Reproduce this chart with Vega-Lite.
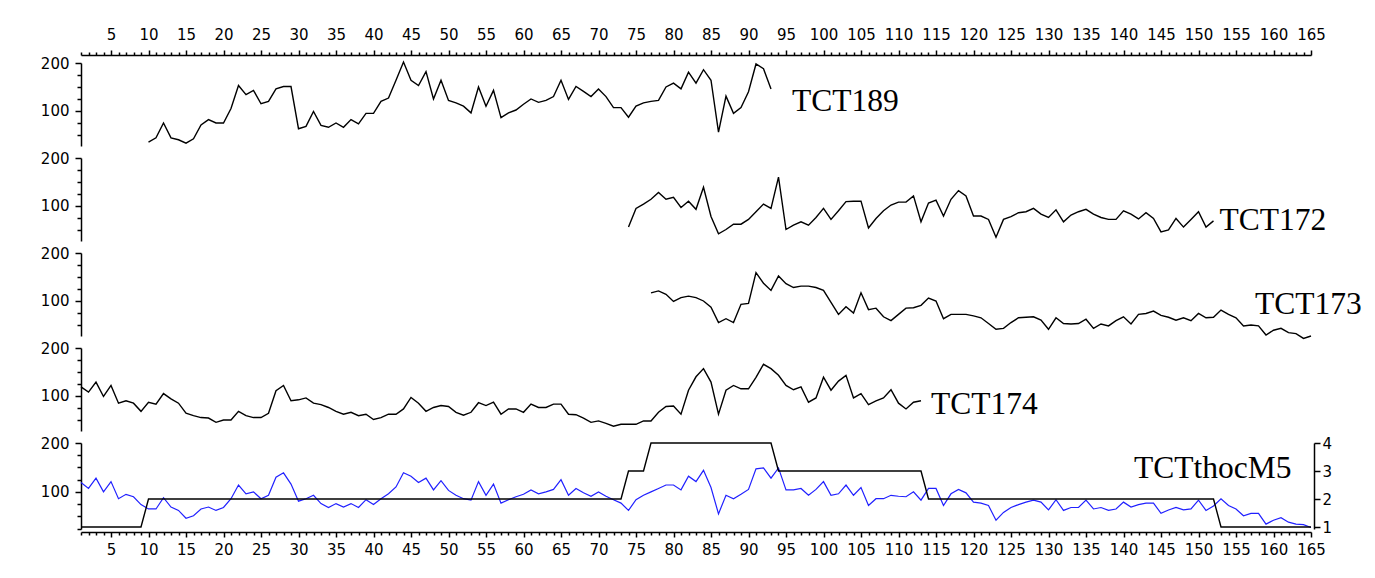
{
"$schema": "https://vega.github.io/schema/vega-lite/v6.json",
"background": "white",
"padding": {"left": 40, "top": 27, "right": 5, "bottom": 5},
"spacing": 12,
"bounds": "flush",
"config": {
  "view": {"stroke": null},
  "axis": {"labelFont": "DejaVu Sans", "labelFontSize": 15, "labelColor": "#000", "domainColor": "#000", "tickColor": "#000", "domainWidth": 1.5, "tickWidth": 1.5, "grid": false, "labelOverlap": false, "labelFlush": false, "labelBound": false, "title": null}
},
"data": {"values": [
{"x":1,"TCT174":119,"M5":119,"step":1},
{"x":2,"TCT174":108,"M5":107,"step":1},
{"x":3,"TCT174":129,"M5":128,"step":1},
{"x":4,"TCT174":99,"M5":100,"step":1},
{"x":5,"TCT174":122,"M5":121,"step":1},
{"x":6,"TCT174":85,"M5":86,"step":1},
{"x":7,"TCT174":90,"M5":95,"step":1},
{"x":8,"TCT174":85,"M5":90,"step":1},
{"x":9,"TCT174":68,"M5":74,"step":1},
{"x":10,"TCT189":35,"TCT174":87,"M5":65,"step":2},
{"x":11,"TCT189":44,"TCT174":83,"M5":65,"step":2},
{"x":12,"TCT189":75,"TCT174":105,"M5":88,"step":2},
{"x":13,"TCT189":44,"TCT174":94,"M5":69,"step":2},
{"x":14,"TCT189":40,"TCT174":85,"M5":62,"step":2},
{"x":15,"TCT189":33,"TCT174":64,"M5":46,"step":2},
{"x":16,"TCT189":42,"TCT174":59,"M5":51,"step":2},
{"x":17,"TCT189":71,"TCT174":55,"M5":65,"step":2},
{"x":18,"TCT189":82,"TCT174":54,"M5":69,"step":2},
{"x":19,"TCT189":75,"TCT174":45,"M5":62,"step":2},
{"x":20,"TCT189":75,"TCT174":50,"M5":68,"step":2},
{"x":21,"TCT189":105,"TCT174":50,"M5":86,"step":2},
{"x":22,"TCT189":153,"TCT174":68,"M5":114,"step":2},
{"x":23,"TCT189":134,"TCT174":59,"M5":96,"step":2},
{"x":24,"TCT189":143,"TCT174":55,"M5":100,"step":2},
{"x":25,"TCT189":115,"TCT174":55,"M5":86,"step":2},
{"x":26,"TCT189":120,"TCT174":64,"M5":93,"step":2},
{"x":27,"TCT189":146,"TCT174":111,"M5":130,"step":2},
{"x":28,"TCT189":151,"TCT174":122,"M5":139,"step":2},
{"x":29,"TCT189":151,"TCT174":90,"M5":116,"step":2},
{"x":30,"TCT189":63,"TCT174":92,"M5":81,"step":2},
{"x":31,"TCT189":68,"TCT174":96,"M5":86,"step":2},
{"x":32,"TCT189":99,"TCT174":85,"M5":93,"step":2},
{"x":33,"TCT189":70,"TCT174":82,"M5":76,"step":2},
{"x":34,"TCT189":66,"TCT174":76,"M5":68,"step":2},
{"x":35,"TCT189":75,"TCT174":68,"M5":76,"step":2},
{"x":36,"TCT189":66,"TCT174":62,"M5":69,"step":2},
{"x":37,"TCT189":82,"TCT174":66,"M5":76,"step":2},
{"x":38,"TCT189":73,"TCT174":59,"M5":68,"step":2},
{"x":39,"TCT189":95,"TCT174":62,"M5":84,"step":2},
{"x":40,"TCT189":95,"TCT174":51,"M5":74,"step":2},
{"x":41,"TCT189":120,"TCT174":55,"M5":86,"step":2},
{"x":42,"TCT189":127,"TCT174":62,"M5":96,"step":2},
{"x":43,"TCT189":164,"TCT174":62,"M5":110,"step":2},
{"x":44,"TCT189":202,"TCT174":73,"M5":139,"step":2},
{"x":45,"TCT189":164,"TCT174":97,"M5":132,"step":2},
{"x":46,"TCT189":153,"TCT174":85,"M5":119,"step":2},
{"x":47,"TCT189":182,"TCT174":68,"M5":128,"step":2},
{"x":48,"TCT189":125,"TCT174":76,"M5":104,"step":2},
{"x":49,"TCT189":164,"TCT174":80,"M5":123,"step":2},
{"x":50,"TCT189":122,"TCT174":78,"M5":103,"step":2},
{"x":51,"TCT189":117,"TCT174":66,"M5":93,"step":2},
{"x":52,"TCT189":110,"TCT174":60,"M5":86,"step":2},
{"x":53,"TCT189":96,"TCT174":66,"M5":83,"step":2},
{"x":54,"TCT189":150,"TCT174":86,"M5":121,"step":2},
{"x":55,"TCT189":110,"TCT174":80,"M5":93,"step":2},
{"x":56,"TCT189":143,"TCT174":87,"M5":116,"step":2},
{"x":57,"TCT189":86,"TCT174":62,"M5":77,"step":2},
{"x":58,"TCT189":96,"TCT174":73,"M5":84,"step":2},
{"x":59,"TCT189":102,"TCT174":73,"M5":90,"step":2},
{"x":60,"TCT189":114,"TCT174":66,"M5":95,"step":2},
{"x":61,"TCT189":125,"TCT174":83,"M5":104,"step":2},
{"x":62,"TCT189":118,"TCT174":76,"M5":96,"step":2},
{"x":63,"TCT189":122,"TCT174":76,"M5":100,"step":2},
{"x":64,"TCT189":130,"TCT174":83,"M5":105,"step":2},
{"x":65,"TCT189":164,"TCT174":83,"M5":125,"step":2},
{"x":66,"TCT189":124,"TCT174":62,"M5":93,"step":2},
{"x":67,"TCT189":151,"TCT174":61,"M5":107,"step":2},
{"x":68,"TCT189":141,"TCT174":54,"M5":98,"step":2},
{"x":69,"TCT189":130,"TCT174":45,"M5":91,"step":2},
{"x":70,"TCT189":146,"TCT174":48,"M5":100,"step":2},
{"x":71,"TCT189":130,"TCT174":43,"M5":91,"step":2},
{"x":72,"TCT189":107,"TCT174":37,"M5":84,"step":2},
{"x":73,"TCT189":107,"TCT174":41,"M5":77,"step":2},
{"x":74,"TCT189":87,"TCT172":56,"TCT174":41,"M5":62,"step":3},
{"x":75,"TCT189":110,"TCT172":95,"TCT174":41,"M5":84,"step":3},
{"x":76,"TCT189":117,"TCT172":104,"TCT174":48,"M5":93,"step":3},
{"x":77,"TCT189":120,"TCT172":114,"TCT173":117,"TCT174":48,"M5":100,"step":4},
{"x":78,"TCT189":122,"TCT172":128,"TCT173":121,"TCT174":66,"M5":107,"step":4},
{"x":79,"TCT189":150,"TCT172":114,"TCT173":114,"TCT174":78,"M5":114,"step":4},
{"x":80,"TCT189":158,"TCT172":118,"TCT173":99,"TCT174":79,"M5":114,"step":4},
{"x":81,"TCT189":146,"TCT172":97,"TCT173":107,"TCT174":62,"M5":104,"step":4},
{"x":82,"TCT189":181,"TCT172":110,"TCT173":110,"TCT174":112,"M5":132,"step":4},
{"x":83,"TCT189":158,"TCT172":93,"TCT173":107,"TCT174":140,"M5":121,"step":4},
{"x":84,"TCT189":186,"TCT172":139,"TCT173":100,"TCT174":157,"M5":144,"step":4},
{"x":85,"TCT189":164,"TCT172":78,"TCT173":87,"TCT174":129,"M5":109,"step":4},
{"x":86,"TCT189":56,"TCT172":42,"TCT173":55,"TCT174":62,"M5":55,"step":4},
{"x":87,"TCT189":131,"TCT172":51,"TCT173":63,"TCT174":112,"M5":93,"step":4},
{"x":88,"TCT189":95,"TCT172":62,"TCT173":55,"TCT174":122,"M5":86,"step":4},
{"x":89,"TCT189":107,"TCT172":62,"TCT173":93,"TCT174":115,"M5":95,"step":4},
{"x":90,"TCT189":140,"TCT172":72,"TCT173":95,"TCT174":115,"M5":105,"step":4},
{"x":91,"TCT189":198,"TCT172":88,"TCT173":159,"TCT174":139,"M5":147,"step":4},
{"x":92,"TCT189":188,"TCT172":104,"TCT173":137,"TCT174":166,"M5":149,"step":4},
{"x":93,"TCT189":146,"TCT172":95,"TCT173":122,"TCT174":157,"M5":128,"step":4},
{"x":94,"TCT172":160,"TCT173":152,"TCT174":143,"M5":149,"step":3},
{"x":95,"TCT172":51,"TCT173":136,"TCT174":122,"M5":104,"step":3},
{"x":96,"TCT172":60,"TCT173":128,"TCT174":113,"M5":104,"step":3},
{"x":97,"TCT172":67,"TCT173":131,"TCT174":119,"M5":107,"step":3},
{"x":98,"TCT172":60,"TCT173":131,"TCT174":87,"M5":93,"step":3},
{"x":99,"TCT172":76,"TCT173":128,"TCT174":96,"M5":105,"step":3},
{"x":100,"TCT172":95,"TCT173":122,"TCT174":139,"M5":121,"step":3},
{"x":101,"TCT172":72,"TCT173":97,"TCT174":112,"M5":93,"step":3},
{"x":102,"TCT172":90,"TCT173":72,"TCT174":131,"M5":96,"step":3},
{"x":103,"TCT172":109,"TCT173":88,"TCT174":143,"M5":114,"step":3},
{"x":104,"TCT172":110,"TCT173":75,"TCT174":96,"M5":93,"step":3},
{"x":105,"TCT172":110,"TCT173":117,"TCT174":105,"M5":109,"step":3},
{"x":106,"TCT172":54,"TCT173":82,"TCT174":82,"M5":72,"step":3},
{"x":107,"TCT172":74,"TCT173":85,"TCT174":90,"M5":86,"step":3},
{"x":108,"TCT172":90,"TCT173":67,"TCT174":96,"M5":86,"step":3},
{"x":109,"TCT172":102,"TCT173":59,"TCT174":113,"M5":93,"step":3},
{"x":110,"TCT172":108,"TCT173":72,"TCT174":85,"M5":91,"step":3},
{"x":111,"TCT172":108,"TCT173":85,"TCT174":73,"M5":90,"step":3},
{"x":112,"TCT172":121,"TCT173":86,"TCT174":87,"M5":100,"step":3},
{"x":113,"TCT172":67,"TCT173":91,"TCT174":90,"M5":83,"step":3},
{"x":114,"TCT172":106,"TCT173":106,"M5":107,"step":2},
{"x":115,"TCT172":112,"TCT173":100,"M5":107,"step":2},
{"x":116,"TCT172":79,"TCT173":63,"M5":72,"step":2},
{"x":117,"TCT172":114,"TCT173":72,"M5":96,"step":2},
{"x":118,"TCT172":132,"TCT173":72,"M5":105,"step":2},
{"x":119,"TCT172":121,"TCT173":72,"M5":98,"step":2},
{"x":120,"TCT172":79,"TCT173":69,"M5":79,"step":2},
{"x":121,"TCT172":79,"TCT173":65,"M5":77,"step":2},
{"x":122,"TCT172":72,"TCT173":53,"M5":72,"step":2},
{"x":123,"TCT172":35,"TCT173":41,"M5":42,"step":2},
{"x":124,"TCT172":72,"TCT173":43,"M5":58,"step":2},
{"x":125,"TCT172":78,"TCT173":55,"M5":68,"step":2},
{"x":126,"TCT172":86,"TCT173":65,"M5":74,"step":2},
{"x":127,"TCT172":88,"TCT173":66,"M5":79,"step":2},
{"x":128,"TCT172":95,"TCT173":67,"M5":83,"step":2},
{"x":129,"TCT172":83,"TCT173":60,"M5":79,"step":2},
{"x":130,"TCT172":76,"TCT173":41,"M5":63,"step":2},
{"x":131,"TCT172":92,"TCT173":65,"M5":84,"step":2},
{"x":132,"TCT172":67,"TCT173":53,"M5":62,"step":2},
{"x":133,"TCT172":81,"TCT173":52,"M5":68,"step":2},
{"x":134,"TCT172":88,"TCT173":53,"M5":68,"step":2},
{"x":135,"TCT172":93,"TCT173":62,"M5":83,"step":2},
{"x":136,"TCT172":83,"TCT173":43,"M5":65,"step":2},
{"x":137,"TCT172":76,"TCT173":52,"M5":68,"step":2},
{"x":138,"TCT172":72,"TCT173":48,"M5":62,"step":2},
{"x":139,"TCT172":72,"TCT173":59,"M5":65,"step":2},
{"x":140,"TCT172":90,"TCT173":67,"M5":79,"step":2},
{"x":141,"TCT172":83,"TCT173":52,"M5":69,"step":2},
{"x":142,"TCT172":73,"TCT173":72,"M5":74,"step":2},
{"x":143,"TCT172":86,"TCT173":74,"M5":77,"step":2},
{"x":144,"TCT172":74,"TCT173":79,"M5":77,"step":2},
{"x":145,"TCT172":46,"TCT173":70,"M5":56,"step":2},
{"x":146,"TCT172":50,"TCT173":66,"M5":63,"step":2},
{"x":147,"TCT172":74,"TCT173":60,"M5":68,"step":2},
{"x":148,"TCT172":56,"TCT173":65,"M5":63,"step":2},
{"x":149,"TCT172":72,"TCT173":59,"M5":65,"step":2},
{"x":150,"TCT172":88,"TCT173":74,"M5":83,"step":2},
{"x":151,"TCT172":56,"TCT173":65,"M5":62,"step":2},
{"x":152,"TCT172":69,"TCT173":66,"M5":71,"step":2},
{"x":153,"TCT173":81,"M5":86,"step":1},
{"x":154,"TCT173":72,"M5":72,"step":1},
{"x":155,"TCT173":65,"M5":65,"step":1},
{"x":156,"TCT173":48,"M5":51,"step":1},
{"x":157,"TCT173":50,"M5":56,"step":1},
{"x":158,"TCT173":48,"M5":56,"step":1},
{"x":159,"TCT173":29,"M5":34,"step":1},
{"x":160,"TCT173":39,"M5":42,"step":1},
{"x":161,"TCT173":43,"M5":47,"step":1},
{"x":162,"TCT173":34,"M5":38,"step":1},
{"x":163,"TCT173":32,"M5":34,"step":1},
{"x":164,"TCT173":22,"M5":33,"step":1},
{"x":165,"TCT173":27,"M5":27,"step":1}
]},
"vconcat": [
{
  "width": 1230, "height": 83,
  "encoding": {"x": {"field": "x", "type": "quantitative", "scale": {"domain": [1, 165], "nice": false, "zero": false},
    "axis": {"orient": "top", "offset": 8, "labelPadding": 8, "labelExpr": "datum.value % 5 === 0 ? datum.label : ''", "tickSize": {"condition": {"test": "datum.value % 5 === 0", "value": 5}, "value": 3},
      "values": [1,2,3,4,5,6,7,8,9,10,11,12,13,14,15,16,17,18,19,20,21,22,23,24,25,26,27,28,29,30,31,32,33,34,35,36,37,38,39,40,41,42,43,44,45,46,47,48,49,50,51,52,53,54,55,56,57,58,59,60,61,62,63,64,65,66,67,68,69,70,71,72,73,74,75,76,77,78,79,80,81,82,83,84,85,86,87,88,89,90,91,92,93,94,95,96,97,98,99,100,101,102,103,104,105,106,107,108,109,110,111,112,113,114,115,116,117,118,119,120,121,122,123,124,125,126,127,128,129,130,131,132,133,134,135,136,137,138,139,140,141,142,143,144,145,146,147,148,149,150,151,152,153,154,155,156,157,158,159,160,161,162,163,164,165]}},
    "y": {"field": "TCT189", "type": "quantitative", "scale": {"domain": [27, 200], "nice": false, "zero": false},
       "axis": {"orient": "left", "values": [50,75,100,125,150,175,200], "labelPadding": 6, "labelExpr": "datum.value % 100 === 0 ? datum.label : ''", "tickSize": {"condition": {"test": "datum.value % 100 === 0", "value": 6}, "value": 4}}}},
  "layer": [
    {"mark": {"type": "line", "color": "#000", "strokeWidth": 1.4, "clip": false}},
    {"transform": [{"filter": "datum.x === 93"}],
     "mark": {"type": "text", "text": "TCT189", "align": "left", "baseline": "alphabetic", "font": "Liberation Serif", "fontSize": 31.5, "color": "#000", "dx": 21, "dy": 22}}
  ]
},
{
  "width": 1230, "height": 83,
  "encoding": {"x": {"field": "x", "type": "quantitative", "scale": {"domain": [1, 165], "nice": false, "zero": false}, "axis": null},
    "y": {"field": "TCT172", "type": "quantitative", "scale": {"domain": [27, 200], "nice": false, "zero": false},
       "axis": {"orient": "left", "values": [50,75,100,125,150,175,200], "labelPadding": 6, "labelExpr": "datum.value % 100 === 0 ? datum.label : ''", "tickSize": {"condition": {"test": "datum.value % 100 === 0", "value": 6}, "value": 4}}}},
  "layer": [
    {"mark": {"type": "line", "color": "#000", "strokeWidth": 1.4, "clip": false}},
    {"transform": [{"filter": "datum.x === 152"}],
     "mark": {"type": "text", "text": "TCT172", "align": "left", "baseline": "alphabetic", "font": "Liberation Serif", "fontSize": 31.5, "color": "#000", "dx": 6, "dy": 9}}
  ]
},
{
  "width": 1230, "height": 83,
  "encoding": {"x": {"field": "x", "type": "quantitative", "scale": {"domain": [1, 165], "nice": false, "zero": false}, "axis": null},
    "y": {"field": "TCT173", "type": "quantitative", "scale": {"domain": [27, 200], "nice": false, "zero": false},
       "axis": {"orient": "left", "values": [50,75,100,125,150,175,200], "labelPadding": 6, "labelExpr": "datum.value % 100 === 0 ? datum.label : ''", "tickSize": {"condition": {"test": "datum.value % 100 === 0", "value": 6}, "value": 4}}}},
  "layer": [
    {"mark": {"type": "line", "color": "#000", "strokeWidth": 1.4, "clip": false}},
    {"transform": [{"filter": "datum.x === 165"}],
     "mark": {"type": "text", "text": "TCT173", "align": "left", "baseline": "alphabetic", "font": "Liberation Serif", "fontSize": 31.5, "color": "#000", "dx": -56, "dy": -22}}
  ]
},
{
  "width": 1230, "height": 83,
  "encoding": {"x": {"field": "x", "type": "quantitative", "scale": {"domain": [1, 165], "nice": false, "zero": false}, "axis": null},
    "y": {"field": "TCT174", "type": "quantitative", "scale": {"domain": [27, 200], "nice": false, "zero": false},
       "axis": {"orient": "left", "values": [50,75,100,125,150,175,200], "labelPadding": 6, "labelExpr": "datum.value % 100 === 0 ? datum.label : ''", "tickSize": {"condition": {"test": "datum.value % 100 === 0", "value": 6}, "value": 4}}}},
  "layer": [
    {"mark": {"type": "line", "color": "#000", "strokeWidth": 1.4, "clip": false}},
    {"transform": [{"filter": "datum.x === 113"}],
     "mark": {"type": "text", "text": "TCT174", "align": "left", "baseline": "alphabetic", "font": "Liberation Serif", "fontSize": 31.5, "color": "#000", "dx": 10, "dy": 13}}
  ]
},
{
  "width": 1230, "height": 86,
  "encoding": {"x": {"field": "x", "type": "quantitative", "scale": {"domain": [1, 165], "nice": false, "zero": false},
    "axis": {"orient": "bottom", "offset": 3, "labelPadding": 5, "labelExpr": "datum.value % 5 === 0 ? datum.label : ''", "tickSize": {"condition": {"test": "datum.value % 5 === 0", "value": 5}, "value": 3},
      "values": [1,2,3,4,5,6,7,8,9,10,11,12,13,14,15,16,17,18,19,20,21,22,23,24,25,26,27,28,29,30,31,32,33,34,35,36,37,38,39,40,41,42,43,44,45,46,47,48,49,50,51,52,53,54,55,56,57,58,59,60,61,62,63,64,65,66,67,68,69,70,71,72,73,74,75,76,77,78,79,80,81,82,83,84,85,86,87,88,89,90,91,92,93,94,95,96,97,98,99,100,101,102,103,104,105,106,107,108,109,110,111,112,113,114,115,116,117,118,119,120,121,122,123,124,125,126,127,128,129,130,131,132,133,134,135,136,137,138,139,140,141,142,143,144,145,146,147,148,149,150,151,152,153,154,155,156,157,158,159,160,161,162,163,164,165]}}},
  "layer": [
    {"encoding": {"y": {"field": "M5", "type": "quantitative", "scale": {"domain": [24, 200], "nice": false, "zero": false},
         "axis": {"orient": "left", "values": [25,50,75,100,125,150,175,200], "labelPadding": 6, "labelExpr": "datum.value % 100 === 0 ? datum.label : ''", "tickSize": {"condition": {"test": "datum.value % 100 === 0", "value": 6}, "value": 4}}}},
     "layer": [
      {"mark": {"type": "line", "color": "#2020ff", "strokeWidth": 1.2, "clip": false}},
      {"transform": [{"filter": "datum.x === 165"}],
       "mark": {"type": "text", "text": "TCTthocM5", "align": "left", "baseline": "alphabetic", "font": "Liberation Serif", "fontSize": 31.5, "color": "#000", "dx": -177, "dy": -50}}
    ]},
    {"mark": {"type": "line", "color": "#000", "strokeWidth": 1.4, "clip": false},
     "encoding": {"y": {"field": "step", "type": "quantitative", "scale": {"domain": [0.93, 4], "nice": false, "zero": false},
       "axis": {"orient": "right", "offset": 3, "format": "d", "values": [1,1.25,1.5,1.75,2,2.25,2.5,2.75,3,3.25,3.5,3.75,4], "labelPadding": 2, "labelExpr": "datum.value % 1 === 0 ? datum.label : ''", "tickSize": {"condition": {"test": "datum.value % 1 === 0", "value": 6}, "value": 4}}}}}
  ],
  "resolve": {"scale": {"y": "independent"}}
}
]
}
